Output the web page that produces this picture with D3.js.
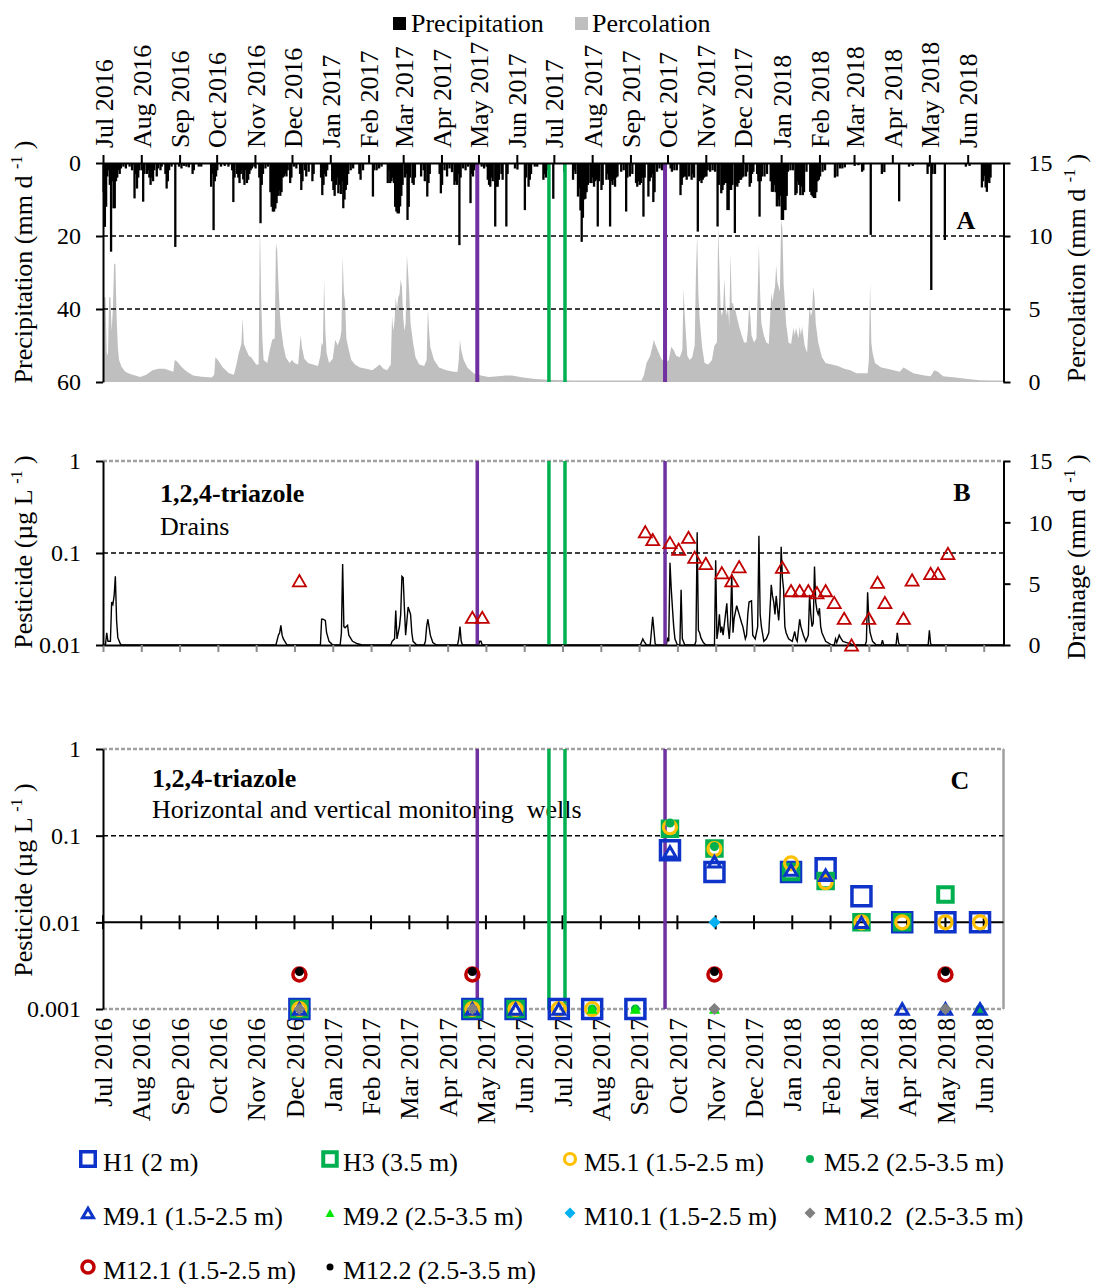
<!DOCTYPE html>
<html>
<head>
<meta charset="utf-8">
<title>1,2,4-triazole</title>
<script src="https://cdn.jsdelivr.net/npm/d3@7"></script>
<style>
  body { margin: 0; background: #fff; }
  svg { font-family: "Liberation Serif", "Times New Roman", serif; }
  text { white-space: pre; }
</style>
</head>
<body>
<div id="chart"></div>
<script>
////////////////////////////////////////////////////////////////////////
// Data

// daily series, each entry is [days after 1 Jul 2016, mm/d]
let precipData = [
  [0,8],[1,17.5],[2,12],[3,3.7],[4,2],[5,6],[6,24.3],[7,5],[8,12.4],[9,12.4],[10,5],[11,4],[12,2],[13,3],[14,1.5],[16,1],[18,1.5],[21,1],[23,2],
  [25,9.7],[26,3],[27,7],[28,4],[29,2],[31,2],[32,10.6],[33,3],[35,3],[36,2],[37,4],[38,6],[39,4],[40,5],[41,2],[43,3.7],[44,1.5],[46,2],[47,1],
  [50,3],[51,7],[52,5],[53,2],[55,1],[58,23],[61,1],[63,1.5],[65,0.8],[67,1],[69,1.2],[72,3],[73,2],[77,1],[79,1],
  [87,6.5],[88,3],[89,18.4],[90,5],[91,3.7],[92,2],[95,1],[98,0.8],[101,1],[104,2],[105,10.7],[106,4],
  [108,3],[109,4],[110,5.5],[111,3],[112,2],[113,4.5],[114,6],[115,2],[116,5.5],[117,4.6],[118,3],[119,2],[120,1.5],[122,1],[123,1.5],
  [126,4],[127,16.5],[128,6],[129,3],[131,1.5],[133,1],
  [135,8],[136,12],[137,13.3],[138,13.3],[139,12.5],[140,11],[141,9],[142,7.5],[143,9],[144,8],[145,4],[146,3.7],[147,3],[148,3.7],[149,2],[151,5.5],[152,4],[154,1],[156,1.5],
  [159,3],[160,7.4],[161,5],[163,2],[164,3.7],[166,2.4],[169,5],[170,3],
  [176,4],[177,8.8],[178,6],[179,3],[180,3.7],[181,2],
  [185,5],[186,7.4],[187,9],[188,6],[189,4],[190,8.3],[191,6],[192,8.5],[193,5],[194,12.4],[195,10],[196,7.4],[197,6],[198,3],[200,2],[202,1.5],
  [207,3],[208,4.6],[210,2],[218,9.2],[219,2],[221,2],[223,1.5],[225,1],
  [230,5.5],[231,2],[232,5.5],[233,5],[234,4],[235,5.5],[236,12],[237,13.3],[238,13.8],[239,13.8],[240,11.9],[241,9],[242,6],[244,4],[245,3],[246,15.6],[247,12],[248,4],
  [250,5.5],[251,6],[252,4],[257,3.7],[259,2],[260,5],[262,9.2],[263,5.5],[264,3],
  [272,3],[273,8.3],[274,6],[276,2],[278,3.7],[280,1.5],[282,2.5],
  [284,6],[285,5],[286,6],[287,3],[288,22.5],[289,4],[291,1.5],[293,2],[295,1],[297,11],[298,3],[299,3.7],[300,2],[302,1],
  [306,1],[308,1.5],[310,1],[311,4.6],[312,6],[313,6.5],[314,4],[315,5],[317,17.4],[318,6.5],[319,6.5],[320,4.6],[322,3],[323,4.6],[326,17.4],[327,3],
  [333,1.5],[335,1.8],[341,12.9],[342,4],[344,6.5],[345,4.6],[346,3],[349,1],[351,1],
  [356,4.6],[357,3],[358,4],[359,2],[364,9.8],[373,2.4],
  [380,4.6],[381,2],[382,3],[384,9.2],[385,7],[386,13],[387,21.6],[388,15],[389,10],[390,9.8],[391,8],[392,6],[394,5.5],[395,5.5],[396,4],
  [397,6.5],[398,5],[399,4.6],[400,17.4],[401,5],[403,7.4],[404,6],[407,4.6],[408,3],[409,4.6],[410,17.4],[411,5],[412,6],[413,4.6],[414,6.5],[415,4],[416,3.7],
  [419,2.4],[421,2],[423,13.3],[424,4],[426,3.7],[428,3],
  [431,5.5],[432,6.5],[433,5],[434,6],[435,5.5],[436,4],[437,14.7],[438,4],[441,9.2],[442,5],[443,4],[444,3],[445,10.7],[446,8],[448,2.4],[450,1.5],[452,2],[454,1.5],
  [459,1.5],[460,2.4],[462,2],[464,2],[467,8.8],[468,6],[469,4],[470,3.7],[471,3.7],[472,4.6],[474,3.7],[476,4.6],[477,3],[478,4],
  [481,18.8],[482,5],[483,4.6],[484,5.5],[485,4.6],[486,4],[487,3.7],[488,3.7],[489,2],[491,2.4],[493,2],[495,2.4],
  [497,17.4],[498,6],[500,8.3],[501,7.4],[502,6],[503,5.5],[504,5.5],[505,12.9],[506,12.9],[507,7.4],[508,7.4],[509,6],[511,19.2],[512,6],
  [513,6.5],[514,5.5],[515,4.6],[516,4.6],[517,4],[518,3.7],[520,3.7],[521,2.4],[523,6.5],[524,5.5],[525,3],[526,2.4],
  [529,3],[530,5],[531,14.7],[532,5],[533,3.7],[535,3.7],[537,3],
  [540,5],[541,7.9],[542,7.9],[543,6],[544,8],[545,11.9],[546,10],[547,11.9],[548,9],[549,15.6],[550,15.6],[551,12.9],[552,12.9],[553,9],[554,2.4],[556,2],[558,2],
  [560,8.8],[561,8.3],[562,5],[563,6],[564,8.8],[565,6.5],[566,8.8],[567,8],[569,2.4],
  [572,7.9],[573,8.8],[574,9.2],[575,9.6],[576,9.6],[577,8],[578,5],[579,4.6],[580,3.7],[582,2.4],[584,2],
  [592,4],[594,3.7],[596,1.5],[598,1.5],[600,1.2],[608,0.8],[611,0.6],[614,2.4],[615,2],[621,19.7],[630,3],[632,2.5],[644,10.5],[652,1],[655,0.8],
  [667,3],[668,1],[670,34.8],[671,3],[673,3],[681,21.1],[698,1],[701,0.8],
  [711,6.7],[712,5],[713,3.5],[714,6.7],[715,7.9],[716,5],[717,5.5],[718,4]
];

let percData = [
  [0,1.5],[1,5.8],[2,5.8],[3,2.0],[4,1.8],[5,5.8],[6,5.8],[7,3.5],[8,5],[9,8.1],[10,8.1],[11,4.5],[12,2.4],[13,1.5],[15,1.05],[18,0.7],[22,0.55],[26,0.45],[30,0.35],
  [35,0.5],[40,0.8],[45,0.9],[50,0.9],[55,0.75],[57,0.7],[58,1.5],[60,1.4],[64,1.0],[68,0.7],[73,0.45],[80,0.36],[88,0.3],[90,0.5],[91,1.7],[93,1.5],[97,1.0],[102,0.6],
  [106,0.5],[108,1.2],[110,2.0],[112,2.6],[113,4.4],[114,2.6],[116,2.2],[118,1.8],[120,1.7],[124,1.2],[126,1.2],[127,10.9],[128,6],[129,3],[130,1.5],[133,1.3],
  [135,2.2],[137,2.9],[139,3],[140,9.5],[141,9.0],[142,6.8],[143,5],[144,3.8],[146,2.5],[148,1.7],[151,1.3],[153,1.5],[155,1.3],[158,1.2],[160,3.2],[161,2.4],
  [163,1.6],[166,1.3],[170,1.2],[174,1.1],[176,1.8],[177,2.7],[178,2.5],[179,7.0],[180,3.5],[181,2.0],[183,1.3],[186,1.6],[188,2.9],[190,2.5],[192,3.0],[193,3.5],
  [194,8.6],[195,6.1],[196,5.5],[197,3],[199,2.2],[201,1.5],[204,1.2],[208,1.0],[213,0.9],[218,0.8],[221,1.0],[224,1.2],[227,0.9],[230,0.8],[233,1.2],
  [234,4.5],[235,3.5],[236,4.2],[237,5.8],[238,5.0],[239,5.8],[240,6.0],[241,7.0],[242,6.5],[243,4.5],[244,3.5],[245,4],[246,8.7],[247,7.5],[248,5.9],[249,4],
  [251,2.7],[253,1.7],[256,1.2],[260,1.1],[262,1.5],[263,5.0],[264,3.5],[265,2.4],[268,1.5],[272,1.0],[278,0.8],[284,0.7],[287,0.7],[288,1.5],[289,2.9],[290,2.2],
  [292,1.5],[295,1.0],[300,0.6],[306,0.45],[312,0.35],[320,0.4],[326,0.45],[331,0.45],[340,0.3],[350,0.2],[360,0.15],[380,0.1],[400,0.1],[420,0.1],[436,0.1],
  [438,0.5],[440,1.3],[443,1.8],[446,2.9],[447,2.6],[449,2.2],[452,1.6],[455,1.3],[458,1.5],[460,2.4],[462,2.2],[464,1.8],[467,1.7],[469,2.2],[470,6.4],[471,4.5],
  [473,1.8],[475,1.5],[477,1.7],[479,2.5],[480,7.4],[481,10.1],[482,6],[483,4.4],[485,2.4],
  [487,1.3],[490,1.2],[493,1.5],[495,2.5],[497,2.7],[498,10.6],[499,7.9],[500,5.0],[501,4.5],[502,5],[503,7.1],[504,5.2],[505,4.5],[506,5.2],[507,3.8],[508,8.8],
  [509,5.4],[510,5.4],[511,5.0],[512,4.9],[513,4.5],[515,3.8],[517,3.2],[519,2.7],[521,2.7],[522,3.5],[523,5.2],[524,4.5],[525,3.2],[527,2.7],[529,3],[531,9.4],
  [532,6],[533,4],[535,3.2],[537,2.7],[539,2.6],[541,6.1],[542,5.5],[543,6.1],[544,6.5],[545,8.0],[546,6.8],[547,6.5],[548,6.2],[549,11.1],[550,10.5],[551,6.7],
  [552,5.5],[553,4],[555,2.7],[557,2.6],[559,3.7],[560,3.2],[561,3.7],[563,3.0],[564,3.8],[565,3.2],[566,3.8],[568,2.5],[570,2.0],[572,5.3],[573,4.5],[574,4.8],
  [575,6.5],[576,5.8],[577,4.0],[579,2.7],[582,1.7],[585,1.3],[590,1.2],[595,1.1],[600,0.9],[605,0.8],[610,0.6],[615,0.6],[619,0.6],[620,1.5],[621,6.8],[622,2.7],
  [623,2.0],[625,1.3],[630,1.0],[635,0.9],[640,0.8],[645,0.7],[648,1.0],[652,0.8],[656,0.6],[665,0.45],[670,0.4],[673,0.8],[676,0.7],[680,0.4],[690,0.3],
  [700,0.2],[710,0.12],[720,0.1],[729,0.1]
];

let drainData = [
  [0,0],[2,0],[3,1.0],[4,0.3],[6,0.3],[7,3.5],[8,3.3],[9,4.0],[10,5.6],[11,2.0],[12,0.6],[14,0.1],[15,0],
  [140,0],[142,0.8],[143,1.0],[144,1.6],[145,0.8],[146,0.5],[149,0],
  [176,0],[177,2.1],[178,2.1],[180,2.0],[181,1.0],[183,0.3],[186,0],
  [192,0],[193,1.0],[194,6.6],[195,1.5],[196,1.4],[198,1.6],[199,0.8],[202,0.3],[206,0.1],[210,0],
  [233,0],[234,0.3],[236,0.5],[237,2.8],[238,0.5],[240,1.5],[241,2.5],[242,5.6],[243,5.5],[244,3],[245,0.8],[247,3.1],[249,2.5],[250,1],[251,0.3],[254,0],
  [260,0],[261,0.3],[262,1.5],[263,2.1],[265,0.8],[267,0.2],[270,0],
  [287,0],[288,0.5],[289,1.5],[290,0.3],[291,0],
  [304,0],[305,0.3],[306,0.3],[307,0],
  [435,0],[437,0.5],[438,0.3],[440,0],[443,0],[445,2.3],[447,0.1],[448,0],
  [456,0],[457,0.5],[458,0.3],[459,6.7],[460,4.6],[461,3.0],[462,1.5],[463,0.5],[465,0],
  [467,0],[468,4.5],[469,0.5],[471,0],
  [479,0],[480,0.3],[481,9.2],[482,1.2],[483,1],[484,0.6],[486,0.2],[488,0],
  [495,0],[496,6.9],[497,0.5],[498,1.2],[499,2.5],[500,1.0],[501,1.5],[502,0.8],[505,3.4],[506,1.5],[507,0.5],[508,2],[509,5.8],[510,1.0],[511,2.2],[513,3.2],
  [515,2.5],[517,1.8],[518,1.5],[520,0.5],[521,0.8],[522,2.5],[523,3.5],[525,3.6],[526,0.8],[528,0.5],[530,1.5],[531,8.9],[532,2.5],[533,1.5],[535,0.3],[537,0.5],
  [539,1.0],[541,4.9],[542,4],[543,3.5],[544,2.5],[545,4.0],[546,3],[547,2.0],[548,3.5],[549,8.0],[550,5.5],[551,4.5],[552,1.5],[553,1],[555,0.5],[558,0.3],
  [560,1.1],[561,0.5],[562,0.3],[564,2.1],[565,1.5],[567,0.8],[569,0.3],[571,0.8],[572,4.1],[573,2.5],[574,1.5],[575,1.8],[576,6.4],[577,3.5],[578,2.8],[579,2.5],
  [580,3.0],[581,1.5],[582,1],[585,0.3],[590,0],[592,0],[593,0.5],[594,0.2],[596,0.8],[597,0.6],[599,0.3],[602,0.2],[605,0.1],[607,0],
  [617,0],[618,0.3],[619,4.3],[620,2],[621,1],[623,0.3],[626,0],
  [630,0],[631,0.4],[632,0],[642,0],[643,1.0],[644,0.2],[645,0],[668,0],[669,1.2],[670,0.1],[671,0],[729,0]
];

// vertical event lines
let purpleDates = ["2017-04-30", "2017-09-29"];
let greenDates = ["2017-06-27", "2017-07-10"];

// drain samples (panel B)
let drainSampleDates = ["2016-12-07","2017-04-26","2017-05-04","2017-09-13","2017-09-19","2017-10-03","2017-10-10","2017-10-18",
  "2017-10-23","2017-11-01","2017-11-14","2017-11-22","2017-11-28","2018-01-02","2018-01-09","2018-01-16","2018-01-23","2018-01-30",
  "2018-02-06","2018-02-13","2018-02-21","2018-02-27","2018-03-13","2018-03-20","2018-03-26","2018-04-10","2018-04-17","2018-05-02",
  "2018-05-08","2018-05-16"];
let drainSampleConc = [0.05, 0.02, 0.02, 0.17, 0.14, 0.13, 0.11, 0.148, 0.09, 0.077, 0.061, 0.05, 0.071, 0.07, 0.039, 0.039,
  0.039, 0.037, 0.039, 0.029, 0.0195, 0.01, 0.0195, 0.048, 0.029, 0.0195, 0.051, 0.06, 0.06, 0.099];

// monitoring well samples (panel C), null = not shown
let wellDates = ["2016-12-07","2017-04-26","2017-05-31","2017-07-05","2017-08-01","2017-09-05","2017-10-03",
  "2017-11-08","2018-01-09","2018-02-06","2018-03-07","2018-04-09","2018-05-14","2018-06-11"];
let h1   = [0.001, 0.001, 0.001, 0.001, 0.001, 0.001, 0.068, 0.038, 0.038, 0.042, 0.02, 0.01, 0.01, 0.01];
let h3   = [0.001, 0.001, 0.001, null, null, null, 0.12, 0.071, 0.038, 0.03, 0.01, 0.01, 0.021, null];
let m5_1 = [0.001, 0.001, 0.001, 0.001, 0.001, null, 0.125, 0.07, 0.048, 0.029, 0.01, 0.01, 0.01, 0.01];
let m5_2 = [null, null, null, null, 0.001, 0.001, 0.14, 0.075, null, null, null, null, 0.001, 0.001];
let m9_1 = [0.001, 0.001, 0.001, 0.001, null, null, 0.065, 0.05, 0.04, 0.035, 0.01, 0.001, 0.001, 0.001];
let m9_2 = [null, null, null, null, 0.001, 0.001, null, 0.001, null, null, null, null, null, null];
let m10_1 = [null, null, null, null, null, null, null, 0.01, null, null, null, null, null, null];
let m10_2 = [0.001, 0.001, null, null, null, null, null, 0.001, null, null, null, null, 0.001, null];
let m12_1 = [0.0025, 0.0025, null, null, null, null, null, 0.0025, null, null, null, null, 0.0025, null];
let m12_2 = [0.0027, 0.0027, null, null, null, null, null, 0.0027, null, null, null, null, 0.0027, null];

let wellLabels = ["H1 (2 m)", "H3 (3.5 m)", "M5.1 (1.5-2.5 m)", "M5.2 (2.5-3.5 m)", "M9.1 (1.5-2.5 m)",
  "M9.2 (2.5-3.5 m)", "M10.1 (1.5-2.5 m)", "M10.2  (2.5-3.5 m)", "M12.1 (1.5-2.5 m)", "M12.2 (2.5-3.5 m)"];

////////////////////////////////////////////////////////////////////////
// Setup

let svg = d3.select("#chart").append("svg")
  .attr("width", 1094)
  .attr("height", 1284);

let t0 = new Date(2016, 6, 1);
let t1 = new Date(2018, 5, 30);
let parse = d3.timeParse("%Y-%m-%d");
let dayDate = d => d3.timeDay.offset(t0, d);
let fmt = d3.timeFormat("%b %Y");

let x = d3.scaleTime().domain([t0, t1]).range([103, 1003.5]);
let months = d3.timeMonth.range(t0, t1);
// panels B and C use a fixed 31 day major unit
let ticks31 = d3.timeDay.range(t0, t1, 31);

const BLUE = "#0d33c8", GREEN = "#00b050", PURPLE = "#7030a0", RED = "#c00000";

function styleAxis(g, size) {
  g.attr("font-family", null).attr("font-size", size || 24);
  g.selectAll(".domain").attr("stroke-width", 2);
  g.selectAll(".tick line").attr("stroke-width", 2);
  g.selectAll(".tick text").attr("fill", "#000");
}

function hline(y, x1, x2, color, dash, w) {
  svg.append("line")
    .attr("x1", x1).attr("x2", x2).attr("y1", y).attr("y2", y)
    .attr("stroke", color).attr("stroke-width", w || 1.5)
    .attr("stroke-dasharray", dash);
}

function eventLines(y1, y2, wp, wg) {
  let g = svg.append("g");
  g.selectAll(".p").data(purpleDates).join("line")
    .attr("x1", d => x(parse(d))).attr("x2", d => x(parse(d)))
    .attr("y1", y1).attr("y2", y2)
    .attr("stroke", PURPLE).attr("stroke-width", wp);
  g.selectAll(".g").data(greenDates).join("line")
    .attr("x1", d => x(parse(d))).attr("x2", d => x(parse(d)))
    .attr("y1", y1).attr("y2", y2)
    .attr("stroke", GREEN).attr("stroke-width", wg);
}

function yTitle(tx, ty, main, unit) {
  let t = svg.append("text")
    .attr("transform", `translate(${tx},${ty}) rotate(-90)`)
    .attr("text-anchor", "middle")
    .attr("font-size", 26);
  t.append("tspan").text(main + " (" + unit + " ");
  t.append("tspan").attr("dy", -10).attr("font-size", 16).text("-1");
  t.append("tspan").attr("dy", 10).text(" )");
}

////////////////////////////////////////////////////////////////////////
// Panel A: precipitation and percolation

let yP = d3.scaleLinear().domain([0, 60]).range([163, 382]);
let yPc = d3.scaleLinear().domain([0, 15]).range([382, 163]);

svg.append("path")
  .datum(percData)
  .attr("fill", "#bfbfbf")
  .attr("d", d3.area()
    .x(d => x(dayDate(d[0])))
    .y0(yPc(0))
    .y1(d => yPc(d[1])));

svg.append("g")
  .selectAll("rect")
  .data(precipData)
  .join("rect")
  .attr("x", d => x(dayDate(d[0])) - 0.5)
  .attr("width", 2.3)
  .attr("y", yP(0))
  .attr("height", d => yP(d[1]) - yP(0))
  .attr("fill", "#000");

hline(yP(20), 103, 1003.5, "#000", "5,3");
hline(yP(40), 103, 1003.5, "#000", "5,3");
eventLines(163, 382, 4, 3.5);

svg.append("g")
  .attr("transform", "translate(103,0)")
  .call(d3.axisLeft(yP).tickValues([0, 20, 40, 60]).tickSize(7).tickSizeOuter(0).tickPadding(15))
  .call(styleAxis);

svg.append("g")
  .attr("transform", "translate(1003.5,0)")
  .call(d3.axisRight(yPc).tickValues([0, 5, 10, 15]).tickSize(7).tickSizeOuter(0).tickPadding(18))
  .call(styleAxis);

let topAxis = svg.append("g")
  .attr("transform", "translate(0,163)")
  .call(d3.axisTop(x).tickValues(months).tickSize(8).tickSizeOuter(0).tickFormat(fmt))
  .call(styleAxis, 26);
topAxis.selectAll(".tick text")
  .attr("transform", "rotate(-90)")
  .attr("text-anchor", "start")
  .attr("x", 15).attr("y", 0).attr("dy", "0.35em");

svg.append("text").attr("x", 966).attr("y", 229).attr("text-anchor", "middle")
  .attr("font-size", 26).attr("font-weight", "bold").text("A");

yTitle(32, 262, "Precipitation", "mm d");
yTitle(1085, 268, "Percolation", "mm d");

// legend on top
svg.append("rect").attr("x", 393).attr("y", 17).attr("width", 13).attr("height", 13).attr("fill", "#000");
svg.append("text").attr("x", 411).attr("y", 32).attr("font-size", 26).text("Precipitation");
svg.append("rect").attr("x", 575).attr("y", 17).attr("width", 13).attr("height", 13).attr("fill", "#bfbfbf");
svg.append("text").attr("x", 592).attr("y", 32).attr("font-size", 26).text("Percolation");

////////////////////////////////////////////////////////////////////////
// Panel B: drains

let yB = d3.scaleLog().domain([0.01, 1]).range([645, 461]);
let yD = d3.scaleLinear().domain([0, 15]).range([645, 461]);

hline(461, 103, 1003.5, "#a0a0a0", "4,2", 2.5);
hline(yB(0.1), 103, 1003.5, "#000", "5,3");

svg.append("text").attr("x", 160).attr("y", 502).attr("font-size", 26).attr("font-weight", "bold").text("1,2,4-triazole");
svg.append("text").attr("x", 160).attr("y", 535).attr("font-size", 26).text("Drains");
svg.append("text").attr("x", 962).attr("y", 501).attr("text-anchor", "middle")
  .attr("font-size", 26).attr("font-weight", "bold").text("B");

svg.append("path")
  .datum(drainData)
  .attr("fill", "none")
  .attr("stroke", "#000")
  .attr("stroke-width", 1.4)
  .attr("d", d3.line().x(d => x(dayDate(d[0]))).y(d => yD(d[1])));

eventLines(461, 645, 3.5, 3.5);

let bAxis = svg.append("g")
  .attr("transform", "translate(0,645)")
  .call(d3.axisBottom(x).tickValues(ticks31).tickSize(7).tickSizeOuter(0).tickFormat(""))
  .call(styleAxis);
bAxis.selectAll(".tick line").attr("stroke", "#8c8c8c");

svg.append("g")
  .attr("transform", "translate(103,0)")
  .call(d3.axisLeft(yB).tickValues([0.01, 0.1, 1]).tickFormat(d => String(d)).tickSize(7).tickSizeOuter(0).tickPadding(15))
  .call(styleAxis);

svg.append("g")
  .attr("transform", "translate(1003.5,0)")
  .call(d3.axisRight(yD).tickValues([0, 5, 10, 15]).tickSize(7).tickSizeOuter(0).tickPadding(18))
  .call(styleAxis);

function triPath(w) {
  let h = w * 0.866;
  return `M0,${-h / 2}L${w / 2},${h / 2}L${-w / 2},${h / 2}Z`;
}
function squarePath(s) {
  return `M${-s / 2},${-s / 2}h${s}v${s}h${-s}Z`;
}
function diamondPath(s) {
  return `M0,${-s / 2}L${s / 2},0L0,${s / 2}L${-s / 2},0Z`;
}

svg.append("g")
  .selectAll("path")
  .data(drainSampleDates.map((d, i) => [parse(d), drainSampleConc[i]]))
  .join("path")
  .attr("transform", d => `translate(${x(d[0])},${yB(d[1])})`)
  .attr("d", triPath(13))
  .attr("fill", "none")
  .attr("stroke", RED)
  .attr("stroke-width", 1.8);

yTitle(32, 552, "Pesticide", "µg L");
yTitle(1085, 557, "Drainage", "mm d");

////////////////////////////////////////////////////////////////////////
// Panel C: monitoring wells

let yC = d3.scaleLog().domain([0.001, 1]).range([1009, 749]);

hline(749, 103, 1003.5, "#a0a0a0", "4,2", 2.5);
hline(1009, 103, 1003.5, "#a0a0a0", "4,2", 2.5);
svg.append("line").attr("x1", 1003.5).attr("x2", 1003.5).attr("y1", 749).attr("y2", 1009)
  .attr("stroke", "#a0a0a0").attr("stroke-width", 2.5);
hline(yC(0.1), 103, 1003.5, "#000", "5,3");

svg.append("text").attr("x", 152).attr("y", 787).attr("font-size", 26).attr("font-weight", "bold").text("1,2,4-triazole");
svg.append("text").attr("x", 152).attr("y", 818).attr("font-size", 26).text("Horizontal and vertical monitoring  wells");
svg.append("text").attr("x", 960).attr("y", 789).attr("text-anchor", "middle")
  .attr("font-size", 26).attr("font-weight", "bold").text("C");

// x axis crossing at 0.01
hline(yC(0.01), 103, 1003.5, "#000", null, 2);
svg.append("g")
  .selectAll("line")
  .data(ticks31)
  .join("line")
  .attr("x1", d => x(d)).attr("x2", d => x(d))
  .attr("y1", yC(0.01) - 7).attr("y2", yC(0.01) + 7)
  .attr("stroke", "#000").attr("stroke-width", 2);

svg.append("g")
  .selectAll("text")
  .data(ticks31)
  .join("text")
  .attr("transform", d => `translate(${x(d)},1018) rotate(-90)`)
  .attr("text-anchor", "end")
  .attr("dy", "0.35em")
  .attr("font-size", 26)
  .text(d => fmt(d));

svg.append("g")
  .attr("transform", "translate(103,0)")
  .call(d3.axisLeft(yC).tickValues([0.001, 0.01, 0.1, 1]).tickFormat(d => String(d)).tickSize(7).tickSizeOuter(0).tickPadding(15))
  .call(styleAxis);

eventLines(749, 1009, 3.5, 3.5);

yTitle(32, 880, "Pesticide", "µg L");

// marker styles for each well, in drawing order
let wellValues = [h1, h3, m5_1, m5_2, m9_1, m9_2, m10_1, m10_2, m12_1, m12_2];
let wellStyles = [
  { shape: "square",   size: 19,   color: BLUE,      sw: 3.5, fill: false, lsize: 14.5 },
  { shape: "square",   size: 14.5, color: GREEN,     sw: 4,   fill: false, lsize: 13.5 },
  { shape: "circle",   size: 6.5,  color: "#ffc000", sw: 3.2, fill: false, lsize: 5.5 },
  { shape: "circle",   size: 4.5,  color: GREEN,     sw: 0,   fill: true,  lsize: 4 },
  { shape: "triangle", size: 12,   color: BLUE,      sw: 3,   fill: false, lsize: 11 },
  { shape: "triangle", size: 11,   color: "#00e600", sw: 0,   fill: true,  lsize: 9 },
  { shape: "diamond",  size: 12,   color: "#00b0f0", sw: 0,   fill: true,  lsize: 11 },
  { shape: "diamond",  size: 12,   color: "#808080", sw: 0,   fill: true,  lsize: 11 },
  { shape: "circle",   size: 6.5,  color: RED,       sw: 3.5, fill: false, lsize: 6 },
  { shape: "circle",   size: 4.5,  color: "#000",    sw: 0,   fill: true,  lsize: 3.5 }
];

function drawMarker(g, st, s) {
  let m;
  if (st.shape == "circle") m = g.append("circle").attr("r", s);
  else if (st.shape == "square") m = g.append("path").attr("d", squarePath(s));
  else if (st.shape == "triangle") m = g.append("path").attr("d", triPath(s));
  else m = g.append("path").attr("d", diamondPath(s));
  if (st.fill) m.attr("fill", st.color).attr("stroke", "none");
  else m.attr("fill", "none").attr("stroke", st.color).attr("stroke-width", st.sw);
}

let markers = svg.append("g");
wellValues.forEach((vals, k) => {
  let pts = wellDates.map((d, i) => [parse(d), vals[i]]).filter(d => d[1] != null);
  pts.forEach(p => {
    let g = markers.append("g").attr("transform", `translate(${x(p[0])},${yC(p[1])})`);
    drawMarker(g, wellStyles[k], wellStyles[k].size);
  });
});

// legend
let legMarkX = [88, 330, 570, 810];
let legTextX = [103, 343, 584, 824];
let legRowY = [1162, 1216, 1270];
wellLabels.forEach((lab, k) => {
  let col = k % 4, row = Math.floor(k / 4);
  let g = svg.append("g").attr("transform", `translate(${legMarkX[col]},${legRowY[row] - 3})`);
  drawMarker(g, wellStyles[k], wellStyles[k].lsize);
  svg.append("text")
    .attr("x", legTextX[col])
    .attr("y", legRowY[row] + 9)
    .attr("font-size", 26)
    .text(lab);
});
</script>
</body>
</html>
